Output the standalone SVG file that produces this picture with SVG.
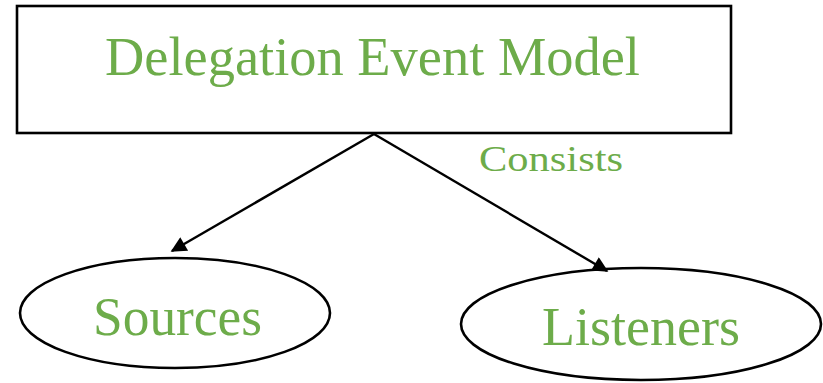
<svg xmlns="http://www.w3.org/2000/svg" width="823" height="383" viewBox="0 0 823 383">
  <style>
    .shape { fill: #ffffff; stroke: #000000; stroke-width: 2.6; }
    .label { font-family: "Liberation Serif", "Times New Roman", serif; fill: #6dac4a; }
    .edge { stroke: #000000; stroke-width: 2.4; fill: none; }
  </style>
  <defs>
    <marker id="arrow" viewBox="0 0 10 10" refX="9" refY="5" markerWidth="7" markerHeight="6.5" orient="auto" markerUnits="strokeWidth">
      <path d="M0,0 L10,5 L0,10 z" fill="#000000"/>
    </marker>
  </defs>
  <rect width="823" height="383" fill="#ffffff"/>

  <g id="node-model">
    <rect class="shape" x="17" y="6" width="714" height="127"/>
    <text class="label" x="105" y="75" font-size="55" textLength="535" lengthAdjust="spacingAndGlyphs">Delegation Event Model</text>
  </g>

  <g id="node-sources">
    <ellipse class="shape" cx="175" cy="313" rx="155" ry="55"/>
    <text class="label" x="93" y="335" font-size="54" textLength="169" lengthAdjust="spacingAndGlyphs">Sources</text>
  </g>

  <g id="node-listeners">
    <ellipse class="shape" cx="641" cy="324" rx="180" ry="56"/>
    <text class="label" x="542" y="345" font-size="54" textLength="198" lengthAdjust="spacingAndGlyphs">Listeners</text>
  </g>

  <g id="connectors">
    <line class="edge" x1="374" y1="134" x2="172" y2="251" marker-end="url(#arrow)"/>
    <line class="edge" x1="374" y1="134" x2="607" y2="271" marker-end="url(#arrow)"/>
    <text class="label" x="479" y="171" font-size="36" textLength="144" lengthAdjust="spacingAndGlyphs">Consists</text>
  </g>
</svg>
